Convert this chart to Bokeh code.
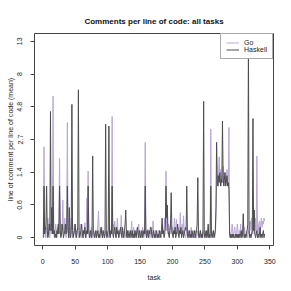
import numpy as np
from bokeh.plotting import figure
from bokeh.models import FixedTicker, Legend, LegendItem, Range1d
from bokeh.embed import file_html
from bokeh.resources import INLINE

# ---- data (mean comments per line of code, per task) ----
tasks = list(range(1, 343))

go = [
    0.05, 2.4, 0.1, 0.0, 0.15, 0.1, 0.0, 0.3, 0.05, 0.1, 0.0, 0.2, 0.05, 0.1, 0.3, 5.7, 0.1, 0.0, 0.05, 0.2,
    0.1, 0.0, 0.15, 0.05, 0.3, 1.9, 0.1, 0.05, 0.2, 0.1, 0.66, 0.1, 0.05, 0.3, 0.1, 0.0, 0.2, 3.7, 0.1, 0.05,
    0.0, 0.15, 0.05, 0.3, 0.1, 0.0, 0.05, 0.1, 0.2, 0.05, 0.0, 0.1, 0.05, 0.15, 0.0, 0.05, 0.1, 0.2, 0.05, 0.0,
    0.1, 0.05, 0.0, 0.1, 0.22, 0.05, 0.0, 0.7, 0.1, 1.45, 0.05, 0.1, 0.0, 0.05, 0.15, 0.0, 0.05, 0.1, 0.0, 0.05,
    0.1, 0.0, 0.05, 0.1, 0.2, 0.43, 0.05, 0.0, 0.1, 0.05, 0.15, 0.0, 0.05, 0.1, 0.0, 0.05, 0.1, 0.0, 0.05, 0.1,
    0.0, 0.05, 0.1, 0.0, 0.05, 0.2, 4.1, 0.1, 0.2, 0.05, 0.25, 0.1, 0.0, 0.05, 0.3, 0.1, 0.05, 0.0, 0.1, 0.05,
    0.35, 0.05, 0.1, 0.0, 0.05, 0.1, 0.05, 0.0, 0.1, 0.05, 0.0, 0.1, 0.05, 0.0, 0.1, 0.05, 0.25, 0.05, 0.0, 0.15,
    0.05, 0.0, 0.1, 0.05, 0.0, 0.1, 0.05, 0.2, 0.0, 0.05, 0.1, 0.0, 0.05, 0.15, 0.05, 0.0, 0.1, 2.6, 0.05, 0.1,
    0.0, 0.12, 0.05, 0.0, 0.1, 0.05, 0.0, 0.1, 0.05, 0.25, 0.05, 0.0, 0.05, 0.1, 0.0, 0.05, 0.0, 0.1, 0.05, 0.0,
    0.05, 0.1, 0.05, 0.2, 0.1, 0.05, 0.15, 0.3, 0.1, 1.45, 0.1, 0.3, 0.05, 0.2, 0.1, 0.05, 0.25, 0.1, 0.05, 0.15,
    0.05, 0.1, 0.3, 0.1, 0.05, 0.28, 0.1, 0.05, 0.15, 0.05, 0.1, 0.4, 0.1, 0.05, 0.2, 0.05, 0.34, 0.1, 0.05, 0.0,
    0.05, 0.1, 0.0, 0.05, 0.1, 0.05, 0.0, 0.1, 0.15, 0.05, 0.0, 0.05, 0.1, 0.0, 0.05, 0.1, 0.0, 0.05, 0.1, 0.0,
    0.05, 0.0, 0.1, 0.05, 0.0, 0.05, 0.1, 0.05, 0.0, 0.1, 0.05, 0.0, 0.05, 0.1, 0.0, 0.05, 0.0, 0.1, 3.3, 0.1,
    0.05, 0.0, 0.1, 0.05, 0.0, 0.05, 0.3, 1.1, 1.3, 1.0, 1.4, 1.96, 1.2, 1.5, 1.0, 1.3, 1.1, 1.6, 1.2, 1.4,
    1.0, 1.3, 1.1, 1.5, 1.0, 1.2, 3.4, 0.1, 0.0, 0.05, 0.1, 0.2, 0.05, 0.0, 0.1, 0.15, 0.0, 0.05, 0.1, 0.2,
    0.05, 0.0, 0.1, 0.05, 0.2, 0.0, 0.05, 0.1, 0.0, 0.05, 0.15, 0.05, 0.0, 0.1, 0.05, 0.0, 0.1, 0.05, 0.2, 0.25,
    0.1, 0.3, 0.05, 0.1, 0.2, 0.05, 0.15, 0.3, 0.1, 2.0, 0.1, 0.05, 0.2, 0.25, 0.1, 0.2, 0.3, 0.15, 0.25, 0.2,
    0.3, 0.25,
]

haskell = [
    0.0, 1.0, 0.05, 0.1, 0.2, 1.0, 0.1, 0.0, 0.05, 0.2, 0.1, 4.45, 0.1, 0.5, 0.05, 1.0, 0.05, 0.1, 0.0, 0.05,
    0.0, 0.1, 0.05, 0.2, 0.05, 1.0, 0.1, 0.0, 0.05, 0.2, 0.1, 0.0, 0.05, 0.1, 0.2, 0.05, 0.1, 1.0, 0.1, 0.0,
    0.5, 0.05, 0.0, 0.1, 5.0, 0.1, 0.0, 0.05, 0.1, 0.2, 0.05, 0.0, 0.1, 0.15, 6.3, 0.1, 0.0, 0.05, 0.1, 0.2,
    0.05, 0.0, 0.1, 0.05, 0.15, 0.0, 0.05, 0.1, 0.05, 1.0, 0.1, 0.0, 0.05, 0.1, 0.0, 0.05, 2.0, 0.1, 0.05, 0.0,
    0.05, 0.1, 0.0, 0.05, 0.1, 0.0, 0.05, 0.0, 0.1, 0.15, 0.05, 0.0, 0.1, 0.05, 0.0, 0.05, 3.6, 0.1, 0.0, 0.05,
    0.1, 3.48, 0.05, 0.0, 0.1, 0.05, 1.0, 0.05, 0.0, 0.1, 0.15, 0.05, 0.0, 0.15, 0.05, 0.1, 0.0, 0.05, 0.1, 0.15,
    0.05, 0.0, 0.15, 0.05, 0.0, 0.1, 0.2, 0.45, 0.05, 0.0, 0.1, 0.05, 0.0, 0.05, 0.1, 0.0, 0.05, 0.1, 0.0, 0.05,
    0.0, 0.1, 0.05, 0.0, 0.1, 0.15, 0.05, 0.0, 0.1, 0.05, 0.0, 0.05, 0.1, 0.0, 0.05, 0.1, 0.05, 1.0, 0.05, 0.0,
    0.1, 0.05, 0.0, 0.1, 0.05, 0.15, 0.15, 0.05, 0.0, 0.05, 0.1, 0.0, 0.05, 0.0, 0.1, 0.05, 0.0, 0.05, 0.0, 0.1,
    0.05, 0.0, 0.1, 0.3, 0.05, 0.1, 0.0, 0.05, 0.2, 1.0, 0.3, 0.55, 0.1, 0.05, 0.0, 0.1, 0.2, 0.83, 0.1, 0.05,
    0.0, 0.1, 0.05, 0.15, 0.0, 0.05, 0.1, 0.2, 0.05, 0.0, 0.1, 0.05, 0.15, 0.0, 0.05, 0.1, 0.0, 0.05, 0.1, 0.15,
    0.1, 1.0, 0.05, 0.0, 0.05, 0.1, 0.0, 0.05, 0.0, 0.1, 0.05, 0.0, 0.05, 0.1, 0.0, 0.05, 0.1, 0.2, 1.24, 0.05,
    0.0, 0.05, 0.1, 0.0, 0.05, 0.0, 0.1, 5.25, 0.05, 0.0, 0.05, 0.1, 0.0, 0.05, 0.2, 0.0, 0.05, 0.0, 1.0, 0.05,
    0.0, 0.05, 0.1, 0.0, 0.05, 0.1, 0.5, 2.6, 1.2, 1.0, 1.3, 1.1, 1.4, 1.0, 1.2, 1.1, 3.8, 1.3, 1.0, 1.2,
    1.4, 1.0, 1.1, 1.3, 1.0, 1.1, 0.9, 0.05, 0.0, 0.05, 0.0, 0.05, 0.0, 0.05, 0.0, 0.0, 0.05, 0.0, 0.05, 0.0,
    0.05, 0.0, 0.05, 0.0, 0.05, 0.1, 0.0, 0.05, 0.38, 0.05, 0.0, 0.05, 0.0, 0.05, 0.1, 0.2, 13.0, 0.1, 0.0, 0.05,
    0.0, 0.05, 0.1, 3.96, 0.1, 0.45, 0.05, 0.0, 0.05, 0.1, 0.0, 0.05, 0.0, 0.05, 0.15, 0.0, 0.05, 0.0, 0.05, 0.1,
    0.0, 0.05,
]

y_tick_labels = ["0", "0.6", "1.4", "2.7", "4.8", "8", "13"]
x_ticks = [0, 50, 100, 150, 200, 250, 300, 350]

GO_COLOR = "#b9a6d8"
HS_COLOR = "#4d4d4d"
FONT = "Liberation Sans"

# y axis is log(1 + value); ticks equally spaced up to log(1 + max)
go_t = np.log1p(np.array(go))
hs_t = np.log1p(np.array(haskell))
ymax = float(max(go_t.max(), hs_t.max()))
y_ticks = list(np.linspace(0, ymax, len(y_tick_labels)))

xmin, xmax = min(tasks), max(tasks)
xpad = (xmax - xmin) * 0.04
ypad = ymax * 0.04

p = figure(width=291, height=291, output_backend="svg", toolbar_location=None,
           x_range=Range1d(xmin - xpad, xmax + xpad), y_range=Range1d(-ypad, ymax + ypad),
           min_border_left=34, min_border_right=18, min_border_top=33, min_border_bottom=46)
p.background_fill_color = "white"
p.border_fill_color = "white"
p.outline_line_color = "#444444"
p.outline_line_width = 1
p.xgrid.visible = False
p.ygrid.visible = False

p.title.text = "Comments per line of code: all tasks"
p.title.align = "center"
p.title.text_font = FONT
p.title.text_font_size = "8px"
p.title.text_font_style = "bold"
p.title.text_color = "#111111"
p.title.offset = 0
p.title.standoff = 15

r_go = p.line(tasks, go_t, line_color=GO_COLOR, line_width=1)
r_hs = p.line(tasks, hs_t, line_color=HS_COLOR, line_width=1)

for ax in (p.xaxis[0], p.yaxis[0]):
    ax.axis_line_color = None
    ax.major_tick_line_color = "#444444"
    ax.major_tick_in = 0
    ax.major_tick_out = 4
    ax.minor_tick_line_color = None
    ax.major_label_text_font = FONT
    ax.major_label_text_font_size = "7px"
    ax.major_label_text_color = "#222222"
    ax.axis_label_text_font = FONT
    ax.axis_label_text_font_size = "7px"
    ax.axis_label_text_font_style = "normal"
    ax.axis_label_text_color = "#222222"

p.xaxis[0].ticker = FixedTicker(ticks=x_ticks)
p.xaxis[0].axis_label = "task"
p.xaxis[0].major_label_standoff = 9
p.xaxis[0].axis_label_standoff = 7

p.yaxis[0].ticker = FixedTicker(ticks=y_ticks)
p.yaxis[0].major_label_overrides = {t: lab for t, lab in zip(y_ticks, y_tick_labels)}
p.yaxis[0].major_label_orientation = "vertical"
p.yaxis[0].axis_label = "line of comment per line of code (mean)"
p.yaxis[0].major_label_standoff = 8
p.yaxis[0].axis_label_standoff = 1

legend = Legend(items=[LegendItem(label="Go", renderers=[r_go]),
                       LegendItem(label="Haskell", renderers=[r_hs])],
                location="top_right", margin=0, padding=5, spacing=0,
                glyph_width=13, glyph_height=7, label_height=7, label_standoff=5,
                label_text_font=FONT, label_text_font_size="7px", label_text_color="#222222",
                border_line_color="#555555", border_line_width=1,
                background_fill_color="white", background_fill_alpha=1.0)
p.add_layout(legend)

open("out.html", "w").write(file_html(p, INLINE))
